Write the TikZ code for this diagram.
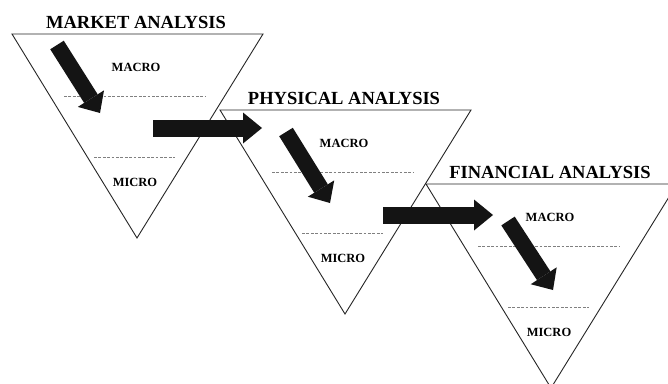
\documentclass[tikz,border=0pt]{standalone}
\usepackage{fontspec}
\setmainfont{Liberation Serif}
\usetikzlibrary{arrows.meta}

\tikzset{
  funnel/.style={draw=black!85, line width=0.9pt, line join=miter},
  stagetitle/.style={font=\fontsize{18.5}{20}\selectfont\bfseries, inner sep=0pt},
  level/.style={font=\fontsize{12.5}{14}\selectfont\bfseries, inner sep=0pt},
  divider/.style={draw=black!50, line width=1pt, dash pattern=on 2.8pt off 1.6pt},
  flow/.style={draw=black!92, line width=17pt,
    -{Triangle[length=19pt,width=31pt,line width=0pt]}},
  drill/.style={draw=black!92, line width=16pt,
    -{Triangle[length=17pt,width=31pt,line width=0pt]}},
}

% One analysis funnel: #1 name, #2 apex x, #3 top edge y, #4 heading
\newcommand\funnelstage[4]{%
  \begin{scope}[shift={(#2,#3)}]
    \coordinate (#1-l) at (-125,0);
    \coordinate (#1-r) at (126,0);
    \coordinate (#1-v) at (0,204);
    \draw[funnel] (#1-l) -- (#1-r) -- (#1-v) -- cycle;
    \node[stagetitle] (#1-title) at (-1,-12) {#4};
    \node[level] (#1-macro) at (-1,33) {MACRO};
    \node[level] (#1-micro) at (-2,148) {MICRO};
    \coordinate (#1-d1a) at (-73,62);
    \coordinate (#1-d1b) at (68,62);
    \coordinate (#1-d2a) at (-43,123);
    \coordinate (#1-d2b) at (38,123);
    \draw[divider] (#1-d1a) -- (#1-d1b);
    \draw[divider] (#1-d2a) -- (#1-d2b);
  \end{scope}}

\begin{document}
\begin{tikzpicture}[x=1pt,y=-1pt]
  \useasboundingbox (0,0) rectangle (668,383);
  \fill[white] (0,0) rectangle (668,383);
  \clip (0,0) rectangle (668,383);

  \funnelstage{mkt}{137}{34}{MARKET ANALYSIS}
  \funnelstage{phy}{345}{110}{PHYSICAL ANALYSIS}
  \funnelstage{fin}{551}{184}{FINANCIAL ANALYSIS}

  % drill-down arrows inside each funnel
  \coordinate (mkt-s) at (57,45);   \coordinate (mkt-e) at (100,113);
  \coordinate (phy-s) at (286,132); \coordinate (phy-e) at (330,203);
  \coordinate (fin-s) at (508,221); \coordinate (fin-e) at (553,290);
  \draw[drill] (mkt-s) -- (mkt-e);
  \draw[drill] (phy-s) -- (phy-e);
  \draw[drill] (fin-s) -- (fin-e);

  % hand-over arrows between funnels
  \coordinate (h1-s) at (153,128); \coordinate (h1-e) at (262,128);
  \coordinate (h2-s) at (383,215); \coordinate (h2-e) at (493,215);
  \draw[flow] (h1-s) -- (h1-e);
  \draw[flow] (h2-s) -- (h2-e);
\end{tikzpicture}
\end{document}
